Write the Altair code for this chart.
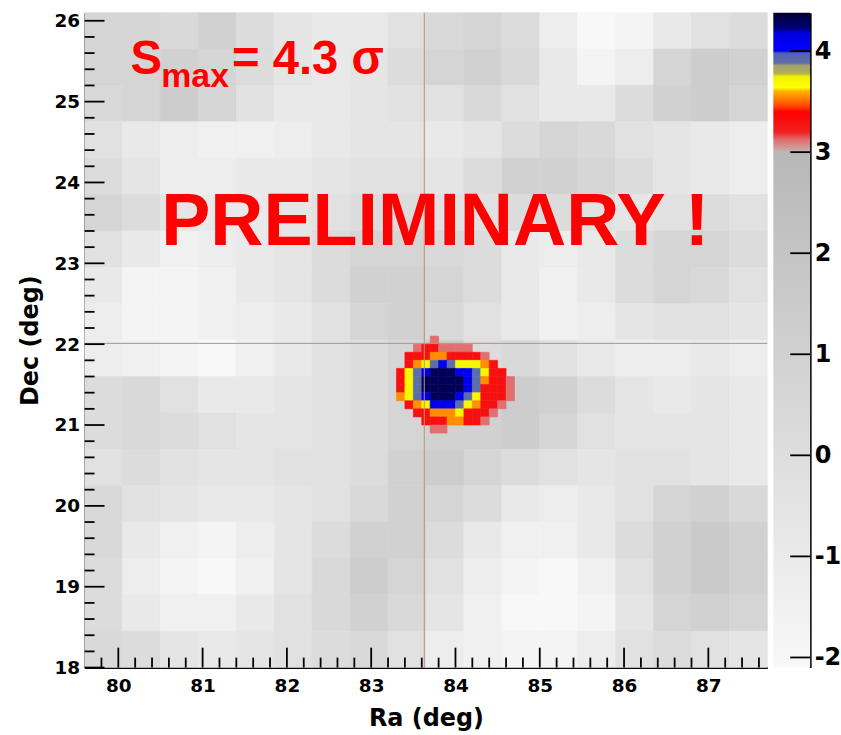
import altair as alt
import pandas as pd

# Map extent (deg)
RA_MIN, RA_MAX = 79.6, 87.7
DEC_MIN, DEC_MAX = 18.0, 26.1

# Coarse significance background, 0.45 deg cells, first row = highest Dec, first column = lowest Ra
BG_STEP = 0.45
BG_ROWS = [
    [0.7, 0.7, 0.4, 1.0, 0.1, -0.6, -0.9, -0.9, -0.3, 0.4, 0.7, 0.1, -1.2, -2.1, -1.8, -0.9, -0.3, 0.1],
    [0.7, 0.7, 1.0, 0.7, 0.1, -0.6, -0.9, -0.6, 0.1, 0.7, 1.0, 0.4, -0.9, -1.8, -1.2, 0.7, 1.3, 1.0],
    [0.4, 0.7, 1.3, 0.7, -0.3, -0.9, -0.9, -0.6, -0.3, -0.3, 0.4, -0.3, -0.9, -0.9, 0.1, 1.0, 1.3, 0.7],
    [-0.3, -0.9, -1.2, -1.5, -1.5, -1.2, -0.9, -0.6, -0.6, -0.9, -0.6, 0.1, 0.7, 0.4, -0.3, -0.6, -0.9, -1.2],
    [0.1, -0.6, -1.2, -1.2, -0.9, -0.9, -0.6, -0.3, -0.3, -0.6, 0.1, 1.0, 1.0, 0.7, 0.1, -0.6, -0.9, -1.2],
    [0.7, 0.1, -0.6, -0.9, -0.9, -0.6, -0.3, 0.1, 0.1, -0.3, -0.3, 0.1, 0.1, -0.3, -0.6, -0.3, 0.1, -0.3],
    [-0.3, -0.9, -1.5, -1.2, -0.9, -0.6, 0.1, 0.7, 0.7, 0.4, 0.1, -0.9, -1.2, -0.9, 0.1, 0.7, 0.7, 0.1],
    [-0.9, -1.8, -1.8, -1.5, -0.9, -0.6, 0.1, 1.0, 1.0, 0.7, 0.1, -0.9, -1.5, -0.9, 0.1, 0.7, 0.4, -0.3],
    [-1.2, -1.8, -1.8, -1.5, -1.2, -0.9, -0.3, 0.7, 1.0, 0.4, -0.3, -0.9, -1.5, -1.2, -0.6, -0.3, -0.3, -0.6],
    [-1.2, -1.5, -1.8, -2.1, -1.5, -0.9, -0.3, 0.1, 0.7, 1.6, 0.1, 0.4, -0.3, -0.9, -1.2, -1.2, -0.9, -1.2],
    [0.1, 0.4, -0.3, -0.9, -0.9, -0.6, -0.3, 0.1, 0.7, 1.8, 0.7, 1.3, 1.0, 0.1, -0.6, -0.9, -0.6, -0.9],
    [0.1, 0.4, 0.1, -0.3, -0.6, -0.6, -0.3, 0.1, 0.7, 1.0, 1.0, 1.3, 0.7, -0.3, -0.6, -0.6, -0.6, -0.9],
    [-0.3, 0.1, -0.3, -0.6, -0.6, -0.3, -0.3, 0.1, 1.0, 1.3, 0.7, 0.1, -0.3, -0.6, -0.3, -0.3, -0.6, -0.9],
    [0.4, -0.3, -0.6, -0.9, -0.9, -0.6, -0.3, 0.4, 1.0, 0.7, 0.1, -0.9, -1.2, -0.9, -0.3, 0.7, 1.0, 0.4],
    [0.4, -0.9, -1.5, -1.8, -1.2, -0.6, 0.1, 1.0, 1.0, 0.1, -0.9, -1.5, -1.5, -0.9, 0.1, 1.0, 1.6, 1.0],
    [0.1, -1.2, -1.8, -2.1, -1.5, -0.6, 0.4, 1.3, 0.7, -0.3, -1.2, -1.8, -2.1, -1.5, -0.3, 1.0, 1.6, 1.0],
    [0.1, -0.9, -1.5, -1.5, -0.9, -0.3, 0.4, 1.0, 0.4, -0.6, -1.5, -2.1, -2.1, -1.8, -0.6, 0.7, 1.0, 0.7],
    [0.4, 0.1, -0.6, -0.9, -0.6, -0.3, 0.1, 0.4, -0.3, -1.2, -1.5, -1.8, -1.8, -1.2, -0.3, 0.1, -0.3, -0.6],
]

# Excess around the source, 0.1 deg bins starting at Ra 83.3 / Dec 22.1 (top row)
HOT_RA_START = 83.3
HOT_DEC_TOP = 22.1
HOT_STEP = 0.1
HOT_ROWS = [
    "....P.........",
    "..PRRPPPP.....",
    ".RRROORRRRP...",
    ".ROYGBGYYYOR..",
    "RYGBNNNBBGYRR.",
    "RYGNNNNNBGORRP",
    "RYGNNNNNBGRRRP",
    "OYGBNNNBGYRRRP",
    ".ROYBBBGYORRP.",
    "..RROOOYRRRP..",
    "...RRROORRP...",
    "....PP........",
]
HOT_LEVELS = {"P": 3.12, "R": 3.3, "O": 3.55, "Y": 3.7, "G": 3.9, "B": 4.1, "N": 4.3}

# Nominal source position (crosshair)
SOURCE_RA = 83.63
SOURCE_DEC = 22.01

# Axis ticks
RA_MAJOR = [80, 81, 82, 83, 84, 85, 86, 87]
DEC_MAJOR = [18, 19, 20, 21, 22, 23, 24, 25, 26]
RA_MINOR = [round(79.8 + 0.2 * k, 1) for k in range(40) if round(79.8 + 0.2 * k, 1) % 1 != 0]
DEC_MINOR = [round(18.2 + 0.2 * k, 1) for k in range(40) if round(18.2 + 0.2 * k, 1) % 1 != 0 and round(18.2 + 0.2 * k, 1) < 26.1]

# Colour palette (significance -> colour)
Z_MIN, Z_MAX = -2.1, 4.38
Z_TICKS = [-2, -1, 0, 1, 2, 3, 4]
STOP_VALUES = [-2.1, 3.0, 3.02, 3.12, 3.2, 3.4, 3.45, 3.53, 3.6, 3.64, 3.75, 3.78, 3.86, 3.88, 3.98, 4.0, 4.18, 4.22, 4.38]
STOP_COLORS = ["#f8f8f8", "#b8b8b8", "#c8a8a8", "#e07070", "#f02020", "#ff0000", "#ff4000", "#ff8000",
               "#ffb000", "#ffff00", "#f0f000", "#b0b050", "#a0a070", "#6070a8", "#5060b0", "#0000ff",
               "#0000e0", "#000080", "#000030"]

W, H = 686, 658
CB_W = 37

bg_df = pd.DataFrame([
    {"ra0": RA_MIN + i * BG_STEP, "ra1": RA_MIN + (i + 1) * BG_STEP,
     "dec0": DEC_MAX - (j + 1) * BG_STEP, "dec1": DEC_MAX - j * BG_STEP, "z": z}
    for j, row in enumerate(BG_ROWS) for i, z in enumerate(row)
])
hot_df = pd.DataFrame([
    {"ra0": HOT_RA_START + i * HOT_STEP, "ra1": HOT_RA_START + (i + 1) * HOT_STEP,
     "dec0": HOT_DEC_TOP - (j + 1) * HOT_STEP, "dec1": HOT_DEC_TOP - j * HOT_STEP, "z": HOT_LEVELS[c]}
    for j, row in enumerate(HOT_ROWS) for i, c in enumerate(row) if c != "."
])

AXIS_FONT = "DejaVu Sans"
xs = alt.Scale(domain=[RA_MIN, RA_MAX], nice=False, zero=False)
ys = alt.Scale(domain=[DEC_MIN, DEC_MAX], nice=False, zero=False)
cs = alt.Scale(domain=STOP_VALUES, range=STOP_COLORS, type="linear", clamp=True, interpolate="rgb")

x_axis = alt.Axis(values=RA_MAJOR, format="d", title="Ra (deg)", ticks=False, grid=False,
                  domainColor="black", domainWidth=2, labelFont=AXIS_FONT, labelFontWeight="bold",
                  labelFontSize=18.5, labelColor="black", labelPadding=9, labelFlush=False,
                  titleFont=AXIS_FONT, titleFontSize=24, titleFontWeight="bold", titleColor="black",
                  titlePadding=12)
y_axis = alt.Axis(values=DEC_MAJOR, format="d", title="Dec (deg)", ticks=False, grid=False,
                  domainColor="black", domainWidth=2, labelFont=AXIS_FONT, labelFontWeight="bold",
                  labelFontSize=18.5, labelColor="black", labelPadding=5, labelFlush=False,
                  titleFont=AXIS_FONT, titleFontSize=24, titleFontWeight="bold", titleColor="black",
                  titlePadding=12)


def X(field):
    return alt.X(field, type="quantitative", scale=xs, axis=x_axis)


def Y(field):
    return alt.Y(field, type="quantitative", scale=ys, axis=y_axis)


def cells(df):
    return alt.Chart(df).mark_rect(strokeWidth=0.6).encode(
        x=X("ra0"), x2="ra1", y=Y("dec0"), y2="dec1",
        color=alt.Color("z:Q", scale=cs, legend=None),
        stroke=alt.Color("z:Q", scale=cs, legend=None),
    )


background = cells(bg_df)
hotspot = cells(hot_df)

cross_color = "#b89078"
v_line = alt.Chart(pd.DataFrame({"ra": [SOURCE_RA]})).mark_rule(color=cross_color, strokeWidth=1).encode(
    x=X("ra"), y=alt.value(0), y2=alt.value(H))
h_line = alt.Chart(pd.DataFrame({"dec": [SOURCE_DEC]})).mark_rule(color=cross_color, strokeWidth=1).encode(
    y=Y("dec"), x=alt.value(0), x2=alt.value(W))

tick_w = 1.8
ra_major = alt.Chart(pd.DataFrame({"ra": RA_MAJOR})).mark_rule(color="black", strokeWidth=tick_w).encode(
    x=X("ra"), y=alt.value(H), y2=alt.value(H - 20))
ra_minor = alt.Chart(pd.DataFrame({"ra": RA_MINOR})).mark_rule(color="black", strokeWidth=tick_w).encode(
    x=X("ra"), y=alt.value(H), y2=alt.value(H - 10))
dec_major = alt.Chart(pd.DataFrame({"dec": DEC_MAJOR})).mark_rule(color="black", strokeWidth=tick_w).encode(
    y=Y("dec"), x=alt.value(0), x2=alt.value(20))
dec_minor = alt.Chart(pd.DataFrame({"dec": DEC_MINOR})).mark_rule(color="black", strokeWidth=tick_w).encode(
    y=Y("dec"), x=alt.value(0), x2=alt.value(10))

RED = "#ff0000"
LABEL_FONT = "Liberation Sans"


def label(text, x, y, size):
    return alt.Chart(pd.DataFrame({"t": [text]})).mark_text(
        align="left", baseline="alphabetic", font=LABEL_FONT, fontWeight="bold",
        fontSize=size, color=RED).encode(text="t:N", x=alt.value(x), y=alt.value(y))


s_main = label("S", 46, 62, 47.5)
s_sub = label("max", 77, 75, 34)
s_val = label("= 4.3 σ", 148, 62, 47.5)
prelim = label("PRELIMINARY !", 77, 233, 74)

heat = alt.layer(background, hotspot, v_line, h_line, ra_major, ra_minor, dec_major, dec_minor,
                 s_main, s_sub, s_val, prelim).properties(width=W, height=H)

# Colour bar built from the same palette stops
zs = alt.Scale(domain=[Z_MIN, Z_MAX], nice=False, zero=False)
cb_axis = alt.Axis(values=Z_TICKS, orient="right", ticks=False, grid=False, title=None,
                   domainColor="black", domainWidth=2, labelFont=AXIS_FONT, labelFontWeight="bold",
                   labelFontSize=24, labelColor="black", labelPadding=4, labelFlush=False,
                   labelExpr="'' + datum.value")
gradient = alt.LinearGradient(
    gradient="linear", x1=0, x2=0, y1=1, y2=0,
    stops=[alt.GradientStop(offset=(v - Z_MIN) / (Z_MAX - Z_MIN), color=c)
           for v, c in zip(STOP_VALUES, STOP_COLORS)],
)
bar = alt.Chart(pd.DataFrame({"lo": [Z_MIN], "hi": [Z_MAX]})).mark_rect(fill=gradient).encode(
    y=alt.Y("lo:Q", scale=zs, axis=cb_axis), y2="hi:Q", x=alt.value(0), x2=alt.value(CB_W))
bar_ticks = alt.Chart(pd.DataFrame({"z": Z_TICKS})).mark_rule(color="black", strokeWidth=tick_w).encode(
    y=alt.Y("z:Q", scale=zs, axis=cb_axis), x=alt.value(CB_W - 20), x2=alt.value(CB_W))
colorbar = alt.layer(bar, bar_ticks).properties(width=CB_W, height=H)

chart = alt.hconcat(heat, colorbar, spacing=5).properties(
    padding={"left": 18, "top": 10, "right": 0, "bottom": 0},
    background="white",
).configure_view(strokeWidth=0)

chart.save("out.html", embed_options={"renderer": "svg", "actions": False})
